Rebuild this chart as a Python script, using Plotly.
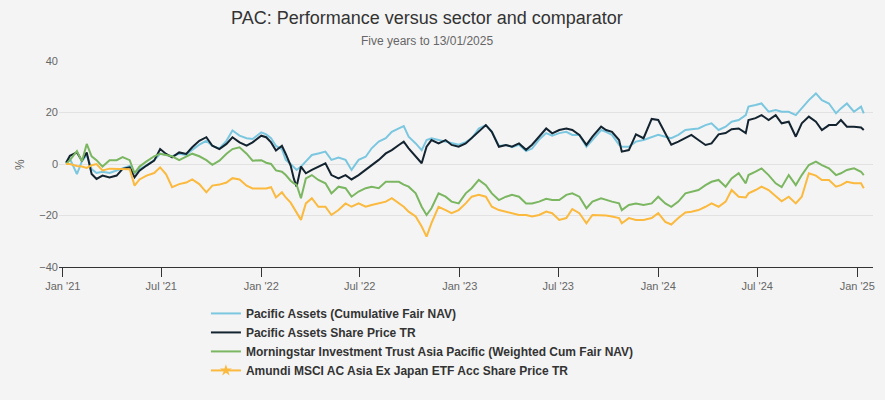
import plotly.graph_objects as go

dates = [
"2021-01-07","2021-01-14","2021-01-27","2021-02-05","2021-02-14","2021-02-23","2021-03-04","2021-03-15","2021-03-28","2021-04-10",
"2021-04-21","2021-05-04","2021-05-13","2021-05-22","2021-06-04","2021-06-18","2021-06-29","2021-07-10","2021-07-21","2021-08-03",
"2021-08-16","2021-08-27","2021-09-09","2021-09-22","2021-10-03","2021-10-16","2021-10-29","2021-11-09","2021-11-22","2021-12-05",
"2021-12-16","2022-01-01","2022-01-10","2022-01-19","2022-01-28","2022-02-08","2022-02-15","2022-02-24","2022-03-02","2022-03-07",
"2022-03-15","2022-03-24","2022-04-04","2022-04-16","2022-04-29","2022-05-10","2022-05-23","2022-06-05","2022-06-16","2022-06-29",
"2022-07-12","2022-07-23","2022-08-05","2022-08-18","2022-08-29","2022-09-11","2022-09-20","2022-09-29","2022-10-12","2022-10-23",
"2022-11-01","2022-11-10","2022-11-23","2022-12-06","2022-12-17","2022-12-30","2023-01-12","2023-01-23","2023-02-05","2023-02-18",
"2023-03-01","2023-03-14","2023-03-27","2023-04-07","2023-04-20","2023-05-03","2023-05-14","2023-05-27","2023-06-09","2023-06-20",
"2023-07-03","2023-07-16","2023-07-27","2023-08-09","2023-08-22","2023-09-02","2023-09-18","2023-09-27","2023-10-08","2023-10-21",
"2023-10-26","2023-11-08","2023-11-21","2023-12-05","2023-12-20","2024-01-01","2024-01-14","2024-01-25","2024-02-07","2024-02-20",
"2024-03-02","2024-03-15","2024-03-28","2024-04-08","2024-04-21","2024-05-04","2024-05-15","2024-05-28","2024-06-10","2024-06-15",
"2024-06-28","2024-07-09","2024-07-22","2024-08-04","2024-08-15","2024-08-28","2024-09-10","2024-09-21","2024-10-04","2024-10-17",
"2024-10-28","2024-11-10","2024-11-23","2024-12-02","2024-12-13","2024-12-26","2025-01-08","2025-01-13",
]

pac_nav = [
0.5,2.0,-3.9,1.0,3.5,-2.0,-3.5,-3.0,-3.5,-2.5,
-1.5,-0.8,-3.5,-2.0,-0.5,1.5,4.0,3.5,3.0,4.0,
3.5,5.5,7.5,9.0,7.0,6.0,9.0,13.0,11.0,10.0,
9.7,12.3,11.5,10.0,7.0,5.8,1.6,0.0,-1.5,-2.3,
-1.0,1.0,3.5,4.1,4.8,1.6,2.5,1.6,-2.3,1.6,
2.8,6.1,8.7,10.0,12.5,13.8,14.7,10.6,8.0,5.4,
9.3,10.0,9.3,8.7,8.0,7.5,8.5,10.0,13.8,15.1,
12.5,7.0,7.4,6.5,7.5,5.0,6.0,9.5,12.0,11.0,
12.0,12.5,11.3,11.3,6.7,9.5,13.2,12.5,11.3,7.5,
6.7,6.7,8.7,9.3,10.5,11.3,10.6,10.0,11.3,13.2,
13.5,13.8,15.1,15.8,13.2,14.5,16.4,17.1,19.0,22.3,
22.9,23.5,20.3,21.0,20.3,20.3,19.0,21.6,24.8,27.4,
24.8,23.5,19.7,21.6,23.5,20.3,22.3,19.7,
]

pac_price = [
0.5,3.2,4.5,1.3,4.5,-3.9,-5.8,-4.5,-5.2,-4.5,
-1.9,-1.3,-5.2,-2.6,-0.6,1.3,5.8,3.9,2.6,4.5,
3.9,6.5,9.0,10.4,7.1,5.8,7.8,10.4,8.4,7.1,
8.4,11.0,10.4,8.4,5.2,7.1,3.9,-0.6,-5.8,-8.8,
-1.0,-3.6,-2.3,-1.0,0.3,-4.3,-5.6,-4.3,-6.0,-4.3,
-2.3,-0.4,1.6,4.1,5.4,7.4,8.7,6.1,3.0,0.3,
6.7,9.3,8.0,9.3,7.4,6.7,8.0,10.0,12.5,15.1,
12.5,6.7,7.4,6.7,8.0,5.5,7.5,10.6,13.8,11.9,
13.2,13.8,13.2,11.3,7.4,10.6,14.5,13.2,12.5,9.3,
4.8,5.4,11.5,10.0,17.5,17.1,11.9,7.5,8.7,10.0,
11.3,9.3,7.4,8.0,11.5,12.0,13.5,13.8,12.0,17.1,
17.8,19.0,17.1,19.0,15.8,16.4,10.6,15.8,18.4,16.4,
13.2,15.1,15.1,17.1,14.5,14.5,14.2,13.2,
]

sector_nav = [
0.0,1.5,5.0,1.0,7.8,3.0,1.5,-1.0,1.5,1.5,
2.7,1.5,-3.6,-1.0,1.0,3.0,4.0,3.5,3.0,1.5,
3.0,4.0,3.0,1.5,-0.3,1.3,4.0,5.8,6.5,4.0,
1.3,1.5,0.5,0.0,-2.5,-3.0,-4.3,-6.5,-7.5,-8.0,
-13.3,-5.6,-4.3,-6.2,-7.5,-11.4,-8.8,-9.4,-12.7,-10.7,
-9.4,-8.8,-9.4,-6.9,-6.9,-6.9,-8.0,-8.8,-11.4,-16.6,
-19.8,-17.2,-11.4,-12.7,-14.6,-15.3,-11.4,-9.4,-6.2,-8.2,
-11.4,-14.0,-12.7,-12.0,-12.7,-15.3,-15.3,-14.6,-13.5,-14.0,
-14.0,-12.0,-11.4,-12.7,-17.2,-14.6,-13.3,-14.0,-14.6,-15.3,
-17.9,-15.9,-15.3,-15.9,-15.3,-12.7,-15.3,-16.6,-14.6,-11.4,
-10.7,-10.1,-8.2,-6.9,-6.2,-8.8,-5.6,-3.6,-7.5,-4.3,
-3.0,-1.7,-4.3,-7.5,-9.0,-4.3,-8.2,-4.3,-0.4,0.9,
-0.4,-1.7,-4.3,-3.6,-2.3,-1.7,-3.0,-4.3,
]

etf_price = [
0.0,0.0,-0.8,-1.0,-1.5,-0.5,0.0,-2.5,-1.8,-1.8,
-1.8,-2.0,-8.4,-6.0,-4.5,-3.5,-1.3,-4.0,-9.0,-7.8,
-7.2,-6.0,-7.8,-11.0,-8.4,-8.0,-7.2,-5.5,-6.0,-8.4,
-9.5,-9.5,-9.5,-9.0,-13.0,-11.0,-13.0,-15.0,-17.0,-18.5,
-21.7,-15.3,-13.3,-16.6,-16.6,-19.8,-17.9,-15.3,-16.6,-15.3,
-16.6,-15.9,-15.3,-14.6,-13.3,-15.3,-16.6,-18.5,-20.4,-24.3,
-28.2,-23.0,-16.6,-17.9,-19.1,-17.9,-15.3,-12.7,-12.0,-12.7,
-16.6,-17.9,-18.5,-19.1,-19.8,-19.8,-20.4,-19.8,-18.5,-19.1,
-21.7,-21.0,-17.5,-19.1,-23.0,-19.8,-19.8,-20.0,-20.4,-21.0,
-23.0,-21.0,-21.7,-21.7,-21.0,-19.1,-22.5,-23.5,-21.0,-18.8,
-18.5,-17.9,-16.6,-15.3,-16.6,-14.6,-10.1,-12.7,-13.0,-11.4,
-10.1,-8.8,-10.1,-12.7,-14.5,-12.7,-15.3,-12.7,-3.6,-4.5,
-6.2,-6.2,-8.8,-8.2,-6.9,-7.5,-7.5,-9.4,
]

series_names = [
    "Pacific Assets (Cumulative Fair NAV)",
    "Pacific Assets Share Price TR",
    "Morningstar Investment Trust Asia Pacific (Weighted Cum Fair NAV)",
    "Amundi MSCI AC Asia Ex Japan ETF Acc Share Price TR",
]
series_values = [pac_nav, pac_price, sector_nav, etf_price]
series_colors = ["#7cc7e0", "#13232f", "#7bb661", "#fbb93e"]

tick_dates = ["2021-01-01","2021-07-01","2022-01-01","2022-07-01","2023-01-01",
              "2023-07-01","2024-01-01","2024-07-01","2025-01-01"]
tick_labels = ["Jan '21","Jul '21","Jan '22","Jul '22","Jan '23",
               "Jul '23","Jan '24","Jul '24","Jan '25"]
y_ticks = [-40, -20, 0, 20, 40]

title_text = "PAC: Performance versus sector and comparator"
subtitle_text = "Five years to 13/01/2025"

fig = go.Figure()
for i, (name, vals, col) in enumerate(zip(series_names, series_values, series_colors)):
    is_star = (i == 3)
    fig.add_trace(go.Scatter(
        x=dates, y=vals, mode="lines", name=name,
        line=dict(color=col, width=2),
        showlegend=not is_star, legendgroup=name, hoverinfo="skip",
    ))
    if is_star:
        fig.add_trace(go.Scatter(
            x=[None], y=[None], mode="lines+markers", name=name,
            line=dict(color=col, width=2),
            marker=dict(symbol="star", size=9, color=col),
            legendgroup=name, showlegend=True,
        ))

fig.update_layout(
    width=885, height=400,
    margin=dict(l=59, r=10, t=61, b=133),
    paper_bgcolor="#f4f4f4", plot_bgcolor="#f4f4f4",
    font=dict(family="Liberation Sans, Arial, sans-serif", color="#333333"),
    showlegend=True,
    legend=dict(
        orientation="v", x=0.1805, xanchor="left", y=-0.155, yanchor="top",
        font=dict(size=12, color="#333333", weight="bold"),
        bgcolor="rgba(0,0,0,0)", itemwidth=30, tracegroupgap=0,
    ),
    xaxis=dict(
        type="date", range=["2020-12-25", "2025-01-30"],
        tickmode="array", tickvals=tick_dates, ticktext=tick_labels,
        showgrid=False, showline=True, linecolor="#333333", linewidth=1,
        ticks="outside", ticklen=9, tickcolor="#333333",
        tickfont=dict(size=11, color="#666666"), zeroline=False,
    ),
    yaxis=dict(
        range=[-40, 40], tickmode="array", tickvals=y_ticks,
        showgrid=True, gridcolor="#e2e2e2", gridwidth=1,
        zeroline=False, showline=False,
        tickfont=dict(size=11, color="#666666"), ticks="",
    ),
    annotations=[
        dict(text=title_text, xref="paper", yref="paper", x=0.4522, y=1.209,
             xanchor="center", yanchor="middle", showarrow=False,
             font=dict(size=18, color="#333333")),
        dict(text=subtitle_text, xref="paper", yref="paper", x=0.4522, y=1.097,
             xanchor="center", yanchor="middle", showarrow=False,
             font=dict(size=12, color="#666666")),
        dict(text="%", xref="paper", yref="paper", x=-0.048, y=0.5,
             xanchor="center", yanchor="middle", showarrow=False, textangle=-90,
             font=dict(size=12, color="#666666")),
    ],
)

fig.write_html(
    "out.html",
    config={"displayModeBar": False},
    post_script="document.body.style.margin='0';document.body.style.background='#f4f4f4';",
)
